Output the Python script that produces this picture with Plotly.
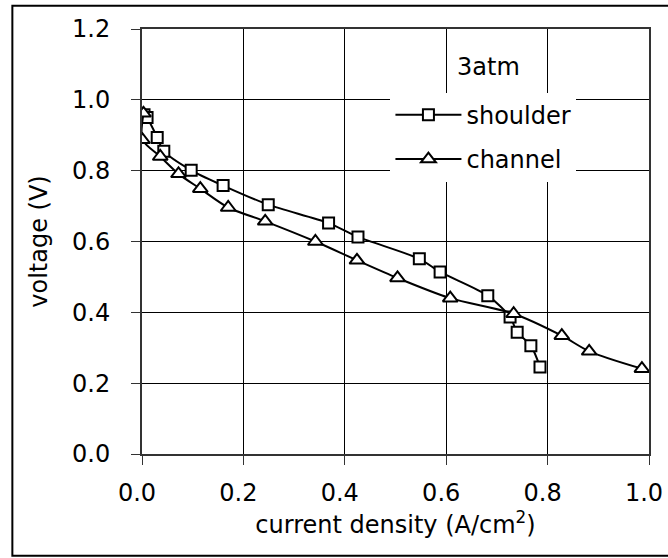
import plotly.graph_objects as go

# Polarisation curves at 3 atm: current density (A/cm^2) vs cell voltage (V)
shoulder_j = [0.004, 0.010, 0.030, 0.043, 0.097, 0.160, 0.249, 0.368, 0.426,
              0.547, 0.588, 0.682, 0.726, 0.740, 0.767, 0.785]
shoulder_v = [0.958, 0.950, 0.894, 0.855, 0.801, 0.758, 0.704, 0.652, 0.613,
              0.551, 0.514, 0.447, 0.387, 0.344, 0.306, 0.246]

channel_j = [0.003, 0.001, 0.036, 0.072, 0.115, 0.170, 0.243, 0.342, 0.424,
             0.504, 0.608, 0.733, 0.828, 0.882, 0.986]
channel_v = [0.962, 0.887, 0.840, 0.791, 0.749, 0.696, 0.657, 0.600, 0.547,
             0.497, 0.440, 0.396, 0.334, 0.290, 0.241]

x_ticks = [0.0, 0.2, 0.4, 0.6, 0.8, 1.0]
x_tick_labels = ["0.0", "0.2", "0.4", "0.6", "0.8", "1.0"]
y_ticks = [0.0, 0.2, 0.4, 0.6, 0.8, 1.0, 1.2]
y_tick_labels = ["0.0", "0.2", "0.4", "0.6", "0.8", "1.0", "1.2"]

FONT = "DejaVu Sans"
FS = 24
INK = "#000000"

fig = go.Figure()

fig.add_trace(go.Scatter(
    x=shoulder_j, y=shoulder_v, name="shoulder", legendgroup="a",
    mode="lines+markers",
    line=dict(color=INK, width=2, shape="spline", smoothing=0.8),
    marker=dict(symbol="square", size=11, color="white",
                line=dict(color=INK, width=2)),
))
fig.add_trace(go.Scatter(
    x=channel_j, y=channel_v, name="channel", legendgroup="b",
    mode="lines+markers",
    line=dict(color=INK, width=2, shape="spline", smoothing=0.8),
    marker=dict(symbol="triangle-up", size=13, color="white",
                line=dict(color=INK, width=2)),
))

axis_common = dict(
    showline=True, linecolor="#333333", linewidth=2, mirror=True,
    showgrid=True, gridcolor=INK, gridwidth=1,
    ticks="outside", ticklen=9, tickwidth=1, tickcolor="#333333",
    tickfont=dict(family=FONT, size=FS, color=INK),
    zeroline=False, ticklabeloverflow="allow", automargin=False,
)

# x labels sit a few pixels left of their ticks
fig.update_xaxes(
    range=[0, 1.0], tickvals=x_ticks, ticktext=x_tick_labels,
    ticklabelstandoff=7, ticklabelshift=-5,
    title=dict(text="current density (A/cm<sup>2</sup>)",
               font=dict(family=FONT, size=FS, color=INK), standoff=5),
    **axis_common,
)
fig.update_yaxes(
    range=[0, 1.2], tickvals=y_ticks, ticktext=y_tick_labels,
    ticklabelstandoff=16,
    title=dict(text="voltage (V)",
               font=dict(family=FONT, size=FS, color=INK), standoff=18),
    **axis_common,
)

fig.add_annotation(
    x=0.618, y=1.094, xref="x", yref="y", text="3atm", showarrow=False,
    xanchor="left", yanchor="middle",
    font=dict(family=FONT, size=FS, color=INK),
)

# Outer frame around the whole chart
fig.add_shape(type="rect", xref="paper", yref="paper",
              x0=-0.2557, x1=1.07, y0=-0.2393, y1=1.0548,
              line=dict(color=INK, width=2), fillcolor="rgba(0,0,0,0)",
              layer="above")

fig.update_layout(
    width=668, height=558,
    margin=dict(l=142, r=19, t=29, b=104),
    paper_bgcolor="white", plot_bgcolor="white",
    font=dict(family=FONT, size=FS, color=INK),
    showlegend=True,
    legend=dict(
        x=0.49, y=0.85, xanchor="left", yanchor="top",
        bgcolor="white", borderwidth=0,
        font=dict(family=FONT, size=FS, color=INK),
        itemwidth=66, tracegroupgap=10,
    ),
)

fig.write_html("out.html")
